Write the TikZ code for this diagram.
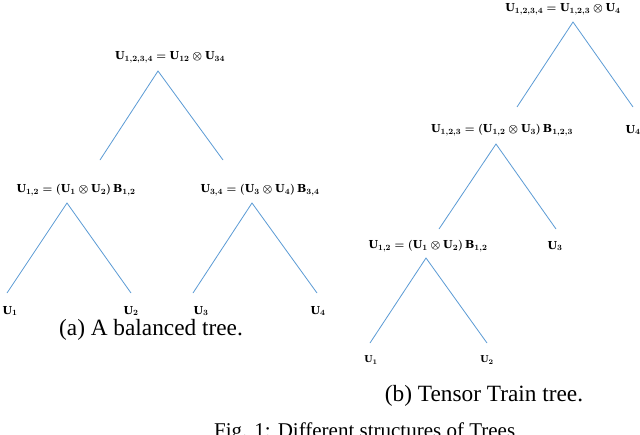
\documentclass[tikz,border=0pt]{standalone}
\usepackage{amsmath}
\usepackage{fontspec}
\setmainfont{Liberation Serif}
\setmathrm{DejaVu Serif}
\setboldmathrm{DejaVu Serif}[BoldFont={* Bold}]
\definecolor{edgeblue}{RGB}{91,155,213}
\tikzset{
  lbl/.style={inner sep=0pt, font=\fontsize{11}{13}\selectfont\boldmath},
  leaf/.style={inner sep=0pt, font=\fontsize{11}{13}\selectfont\boldmath},
  sleaf/.style={inner sep=0pt, font=\fontsize{9.5}{11}\selectfont\boldmath},
  captext/.style={inner sep=0pt, font=\fontsize{23.3}{26}\selectfont},
  figtext/.style={inner sep=0pt, font=\fontsize{21}{24}\selectfont},
  edge/.style={draw=edgeblue, line width=0.8pt}
}
\begin{document}
\begin{tikzpicture}[x=1pt,y=-1pt]
\clip (0,0) rectangle (640,434);
\fill[white] (0,0) rectangle (640,434);
% ---------- left: balanced tree ----------
\node[lbl] (L0) at (170,57) {$\mathbf{U}_{1,2,3,4}=\mathbf{U}_{12}\otimes\mathbf{U}_{34}$};
\coordinate (LA) at (158,71);
\coordinate (LAl) at (100,160);
\coordinate (LAr) at (223,160);
\draw[edge] (LAl) -- (LA) -- (LAr);
\node[lbl] (L12) at (76,190) {$\mathbf{U}_{1,2}=(\mathbf{U}_{1}\otimes\mathbf{U}_{2})\,\mathbf{B}_{1,2}$};
\coordinate (LB) at (67,203);
\coordinate (LBl) at (7,293);
\coordinate (LBr) at (131,293);
\draw[edge] (LBl) -- (LB) -- (LBr);
\node[lbl] (L34) at (260,190) {$\mathbf{U}_{3,4}=(\mathbf{U}_{3}\otimes\mathbf{U}_{4})\,\mathbf{B}_{3,4}$};
\coordinate (LC) at (252,203);
\coordinate (LCl) at (193,293);
\coordinate (LCr) at (317,293);
\draw[edge] (LCl) -- (LC) -- (LCr);
\node[leaf] (La1) at (10,311) {$\mathbf{U}_{1}$};
\node[leaf] (La2) at (131,311) {$\mathbf{U}_{2}$};
\node[leaf] (La3) at (201,311) {$\mathbf{U}_{3}$};
\node[leaf] (La4) at (318,311) {$\mathbf{U}_{4}$};
\node[captext] (capa) at (151,330) {(a) A balanced tree.};
% ---------- right: tensor train tree ----------
\node[lbl] (R0) at (563,9) {$\mathbf{U}_{1,2,3,4}=\mathbf{U}_{1,2,3}\otimes\mathbf{U}_{4}$};
\coordinate (RA) at (573,22);
\coordinate (RAl) at (517,107);
\coordinate (RAr) at (633,107);
\draw[edge] (RAl) -- (RA) -- (RAr);
\node[lbl] (R123) at (502,130) {$\mathbf{U}_{1,2,3}=(\mathbf{U}_{1,2}\otimes\mathbf{U}_{3})\,\mathbf{B}_{1,2,3}$};
\node[leaf] (Rb4) at (633,130) {$\mathbf{U}_{4}$};
\coordinate (RB) at (496,144);
\coordinate (RBl) at (439,229);
\coordinate (RBr) at (556,229);
\draw[edge] (RBl) -- (RB) -- (RBr);
\node[lbl] (R12) at (428,246) {$\mathbf{U}_{1,2}=(\mathbf{U}_{1}\otimes\mathbf{U}_{2})\,\mathbf{B}_{1,2}$};
\node[leaf] (Rb3) at (555,246) {$\mathbf{U}_{3}$};
\coordinate (RC) at (426,258);
\coordinate (RCl) at (370,343);
\coordinate (RCr) at (487,343);
\draw[edge] (RCl) -- (RC) -- (RCr);
\node[sleaf] (Rb1) at (371,360) {$\mathbf{U}_{1}$};
\node[sleaf] (Rb2) at (487,360) {$\mathbf{U}_{2}$};
\node[captext] (capb) at (484,396) {(b) Tensor Train tree.};
% ---------- figure caption (cut off) ----------
\node[figtext, anchor=base west] (fig) at (214,437) {Fig. 1: Different structures of Trees};
\end{tikzpicture}
\end{document}
